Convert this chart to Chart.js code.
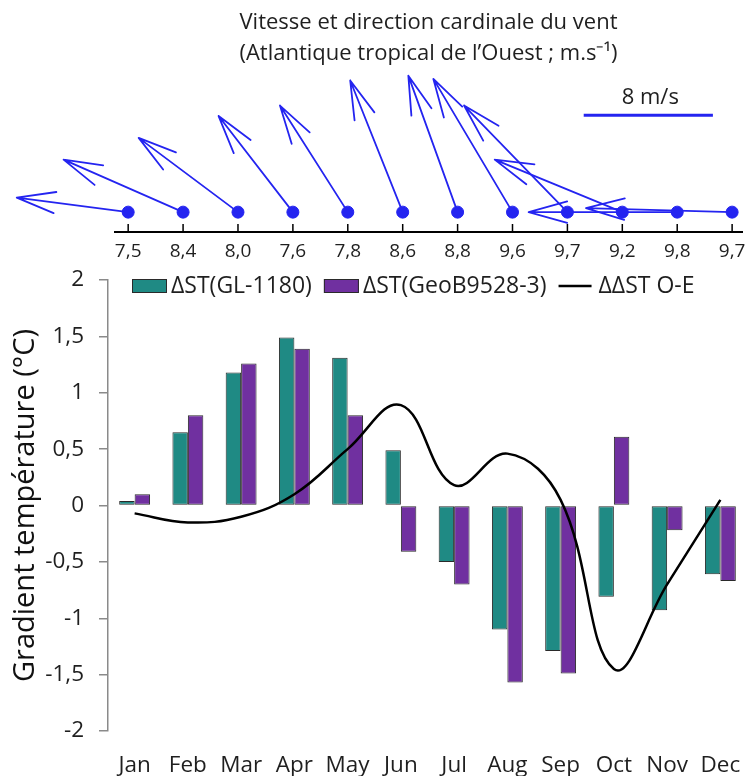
<!DOCTYPE html>
<html lang="fr">
<head>
  <meta charset="UTF-8" />
  <title>Vent et gradient de température</title>
  <script src="https://cdn.jsdelivr.net/npm/chart.js"></script>
  <style>
    body { margin: 0; background: #fff; }
    canvas { display: block; }
  </style>
</head>
<body>
  <canvas id="ventChart" width="747" height="262"></canvas>
  <canvas id="gradientChart" width="747" height="514"></canvas>

  <script>
    // Données
    const mois = ["Jan", "Feb", "Mar", "Apr", "May", "Jun", "Jul", "Aug", "Sep", "Oct", "Nov", "Dec"];
    const vitesseVent = [7.5, 8.4, 8.0, 7.6, 7.8, 8.6, 8.8, 9.6, 9.7, 9.2, 9.8, 9.7];
    // composantes du vecteur vent (m/s) : u vers l'est, v vers le nord
    const ventU = [-6.9, -7.4, -6.15, -4.6, -4.2, -3.25, -3.05, -4.9, -6.4, -7.9, -9.2, -9.05];
    const ventV = [0.9, 3.25, 4.6, 5.95, 6.6, 8.15, 8.45, 8.25, 6.6, 3.25, 0.0, 0.25];
    const echelleVent = 8; // longueur de la flèche de référence (m/s)

    const dstGL = [0.04, 0.65, 1.18, 1.49, 1.31, 0.49, -0.50, -1.10, -1.29, -0.81, -0.93, -0.61];
    const dstGeoB = [0.10, 0.80, 1.26, 1.39, 0.80, -0.41, -0.70, -1.57, -1.49, 0.61, -0.22, -0.67];
    const ddstOE = [-0.07, -0.15, -0.10, 0.10, 0.50, 0.89, 0.18, 0.46, 0.05, -1.45, -0.70, 0.05];

    const virgule = v => String(v).replace(".", ",");
    const police = '"Open Sans", sans-serif';
    Chart.defaults.font.family = police;
    Chart.defaults.color = "#1f1f1f";

    const bleu = "#2424f0";

    // Flèches de vent, graduations et échelle
    const flechesVent = {
      id: "flechesVent",
      beforeDatasetsDraw(chart) {
        const { ctx, scales: { x, y } } = chart;
        const k = y.getPixelForValue(0) - y.getPixelForValue(1); // px par m/s
        ctx.save();
        ctx.strokeStyle = bleu;
        ctx.lineWidth = 1.8;
        ctx.lineCap = "round";
        ventU.forEach((u, i) => {
          const x0 = x.getPixelForValue(i), y0 = y.getPixelForValue(0);
          const x1 = x0 + u * k, y1 = y0 - ventV[i] * k;
          const a = Math.atan2(y0 - y1, x0 - x1);
          ctx.beginPath();
          ctx.moveTo(x0, y0);
          ctx.lineTo(x1, y1);
          [-0.27, 0.27].forEach(d => {
            ctx.moveTo(x1, y1);
            ctx.lineTo(x1 + 40 * Math.cos(a + d), y1 + 40 * Math.sin(a + d));
          });
          ctx.stroke();
        });

        // barre d'échelle
        const xd = x.getPixelForValue(10.65), yb = y.getPixelForValue(6);
        ctx.lineWidth = 3;
        ctx.lineCap = "butt";
        ctx.beginPath();
        ctx.moveTo(xd - echelleVent * k, yb);
        ctx.lineTo(xd, yb);
        ctx.stroke();
        ctx.fillStyle = "#1f1f1f";
        ctx.font = "22px " + police;
        ctx.textAlign = "center";
        ctx.textBaseline = "middle";
        ctx.fillText(echelleVent + " m/s", xd - echelleVent * k / 2 + 2, yb - 18);

        // petites graduations au-dessus de l'axe
        ctx.strokeStyle = "#000";
        ctx.lineWidth = 1.5;
        ctx.beginPath();
        mois.forEach((m, i) => {
          const xt = x.getPixelForValue(i);
          ctx.moveTo(xt, chart.chartArea.bottom);
          ctx.lineTo(xt, chart.chartArea.bottom - 8);
        });
        ctx.stroke();
        ctx.restore();
      }
    };

    new Chart(document.getElementById("ventChart"), {
      type: "scatter",
      data: {
        datasets: [{
          label: "Vent",
          data: mois.map((m, i) => ({ x: i, y: 0 })),
          pointRadius: 6,
          pointBackgroundColor: bleu,
          pointBorderColor: bleu
        }]
      },
      options: {
        responsive: false,
        animation: false,
        layout: { autoPadding: false, padding: { left: 115, right: 5, top: 0, bottom: 0 } },
        plugins: {
          legend: { display: false },
          tooltip: { enabled: false },
          title: {
            display: true,
            fullSize: false,
            text: ["Vitesse et direction cardinale du vent", "(Atlantique tropical de l’Ouest ; m.s⁻¹)"],
            color: "#1f1f1f",
            font: { size: 22, weight: "normal", lineHeight: 1.41 },
            padding: { top: 7.5, bottom: 0 }
          }
        },
        scales: {
          x: {
            type: "linear",
            min: -0.24,
            max: 11.18,
            afterBuildTicks: s => { s.ticks = mois.map((m, i) => ({ value: i })); },
            afterFit: s => { s.height = 30; s.paddingLeft = 0; s.paddingRight = 0; },
            grid: { display: false, drawTicks: false },
            border: { display: true, color: "#000", width: 2 },
            ticks: {
              autoSkip: false,
              padding: 8,
              font: { size: 19 },
              callback: v => vitesseVent[v].toFixed(1).replace(".", ",")
            }
          },
          y: { display: false, min: -1.23, max: 8.83 }
        }
      },
      plugins: [flechesVent]
    });

    // Légende dessinée dans la zone du graphique
    const legendeInterne = {
      id: "legendeInterne",
      afterDraw(chart) {
        const ctx = chart.ctx;
        let x = chart.chartArea.left + 24;
        const yc = chart.chartArea.top + 6;
        ctx.save();
        ctx.font = "23px " + police;
        ctx.textBaseline = "middle";
        chart.data.datasets.forEach(ds => {
          if (ds.type === "line") {
            ctx.strokeStyle = ds.borderColor;
            ctx.lineWidth = 2.5;
            ctx.beginPath();
            ctx.moveTo(x, yc);
            ctx.lineTo(x + 33, yc);
            ctx.stroke();
            x += 40;
          } else {
            ctx.fillStyle = ds.backgroundColor;
            ctx.fillRect(x, yc - 7, 35, 14);
            ctx.strokeStyle = ds.borderColor;
            ctx.lineWidth = 1;
            ctx.strokeRect(x + 0.5, yc - 6.5, 34, 13);
            x += 39;
          }
          ctx.fillStyle = "#1f1f1f";
          ctx.fillText(ds.label, x, yc);
          x += ctx.measureText(ds.label).width + 12;
        });
        ctx.restore();
      }
    };

    new Chart(document.getElementById("gradientChart"), {
      type: "bar",
      data: {
        labels: mois,
        datasets: [
          {
            label: "ΔST(GL-1180)",
            data: dstGL,
            backgroundColor: "#1f8a84",
            borderColor: "#2a2a2a",
            borderWidth: 1,
            borderSkipped: false,
            order: 1
          },
          {
            label: "ΔST(GeoB9528-3)",
            data: dstGeoB,
            backgroundColor: "#7030a0",
            borderColor: "#2a2a2a",
            borderWidth: 1,
            borderSkipped: false,
            order: 1
          },
          {
            type: "line",
            label: "ΔΔST O-E",
            data: ddstOE,
            borderColor: "#000",
            borderWidth: 2.5,
            pointRadius: 0,
            tension: 0.4,
            fill: false,
            order: 0
          }
        ]
      },
      options: {
        responsive: false,
        animation: false,
        layout: { autoPadding: false, padding: { left: 0, right: 0, top: 18, bottom: 0 } },
        datasets: { bar: { categoryPercentage: 0.58, barPercentage: 1 } },
        plugins: {
          legend: { display: false },
          tooltip: { enabled: false }
        },
        scales: {
          x: {
            afterFit: s => { s.height = 45; s.paddingLeft = 0; s.paddingRight = 0; },
            grid: { display: false, drawTicks: false },
            border: { display: false },
            ticks: { padding: 21, font: { size: 22.5 } }
          },
          y: {
            min: -2,
            max: 2,
            afterFit: s => { s.width = 108; s.paddingTop = 0; s.paddingBottom = 0; },
            grid: { display: true, drawOnChartArea: false, drawTicks: true, tickLength: 9, color: "#8a8a8a", lineWidth: 1.5 },
            border: { display: true, color: "#8a8a8a", width: 1.5 },
            ticks: { stepSize: 0.5, padding: 15, font: { size: 22.5 }, callback: v => virgule(v) },
            title: {
              display: true,
              text: "Gradient température (°C)",
              color: "#111",
              font: { size: 29 },
              padding: { top: 8.5, bottom: 0 }
            }
          }
        }
      },
      plugins: [legendeInterne]
    });
  </script>
</body>
</html>
